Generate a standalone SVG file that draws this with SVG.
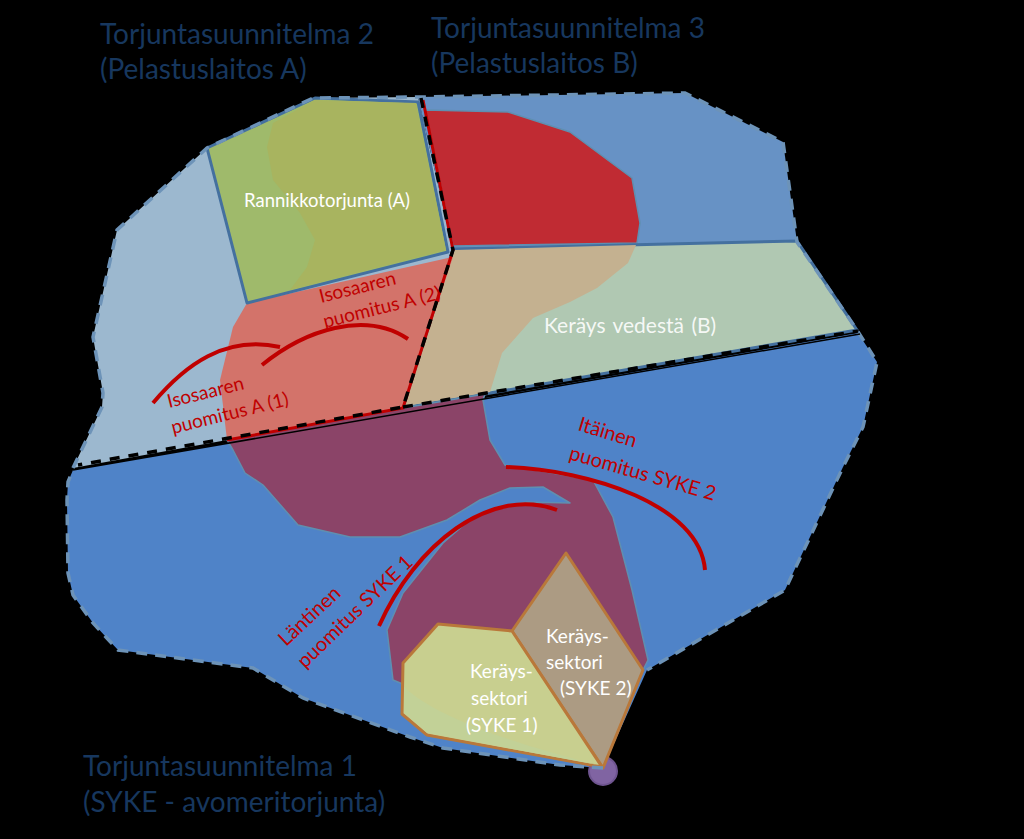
<svg xmlns="http://www.w3.org/2000/svg" width="1024" height="839" viewBox="0 0 1024 839">
<style>
text{font-family:"Lato","Open Sans","Liberation Sans",sans-serif}
.title{font-size:28px;fill:#17375e}
.w{fill:#fff}
.r{font-size:19px;fill:#c00000}
.r2{font-size:20px;fill:#c00000}
.boom{fill:none;stroke:#c00000;stroke-width:4}
.edge{fill:none;stroke:#6d93b8;stroke-width:3.5;stroke-dasharray:11 8}
.dash{fill:none;stroke:#000;stroke-width:3.5;stroke-dasharray:10 9}
.sec{stroke:#b9783a;stroke-width:3;stroke-linejoin:round}
.zone{stroke:#44709f;stroke-width:3;stroke-linejoin:round}
.soft{stroke:#5f8fb0;stroke-width:1.5;stroke-linejoin:round}
</style>
<rect width="1024" height="839" fill="#000"/>
<g id="plan1"><path d="M73 470L858 333L877 362L863 427L843 467L785 590L647 670L603 768L560 765L443 748L410 737L303 698L253 668L118 650L93 623L73 595L68 573L67 500L68 482Z" fill="#4f83c8"/></g>
<g id="plan2"><path d="M73 468L102 407L103 393L93 337L117 230L207 148L313 98L418 97L453 250L403 408Z" fill="#9cb8cf"/></g>
<g id="plan3"><path d="M418 97L685 93L783 142L797 242L453 250Z" fill="#6792c5"/></g>
<g id="spill-red"><path class="soft" d="M425 110L508 112L570 132L632 178L640 223L637 243L453 246Z" fill="#c02b33"/></g>
<g id="zone-b"><path class="zone" d="M453 249L797 241L857 330L403 408Z" fill="#b0c8b2"/><path d="M455 250L636 245L628 263L597 288L570 302L533 318L502 353L490 392L405 406Z" fill="#c4b190"/><text class="w" x="544" y="333" fill-opacity=".9" style="font-size:21px;word-spacing:2px">Keräys vedestä (B)</text></g>
<g id="spill-salmon"><path d="M247 303L448 258L453 257L403 408L227 440L220 380L233 327Z" fill="#d3736a"/></g>
<g id="spill-purple"><path class="soft" d="M227 440L403 408L485 394L483 400L490 440L505 465L593 480L613 517L632 590L648 660L643 670L602 767L393 680L387 630L403 593L443 543L473 517L497 507L527 502L570 503L543 487L510 488L480 500L447 520L400 537L350 537L298 525L263 485L245 473L233 450Z" fill="#8b4468"/></g>
<g id="zone-a"><path class="zone" d="M207 148L315 98L418 102L448 252L247 303Z" fill="#9fba6b"/><path d="M315 100L416 103L446 250L290 290L307 267L315 240L300 213L273 180L267 147L273 123Z" fill="#a8b45f"/><text class="w" x="244" y="207" style="font-size:18.5px">Rannikkotorjunta (A)</text></g>
<g id="circle"><circle cx="603" cy="771" r="14" fill="#8064a2" stroke="#6f5590" stroke-width="2"/></g>
<g id="sector2"><path class="sec" d="M566 553L643 670L603 768L512 631Z" fill="#ac9b83"/><text class="w" style="font-size:19px"><tspan x="546" y="643">Keräys-</tspan><tspan x="546" y="669">sektori</tspan><tspan x="560" y="695">(SYKE 2)</tspan></text></g>
<g id="sector1"><path class="sec" d="M512 631L438 624L403 663L402 714L427 735L602 767Z" fill="#c8cf8f"/><path d="M404 687C440 720 520 745 598 765L427 733L404 713Z" fill="#c2d197"/><text class="w" style="font-size:19px"><tspan x="470" y="678">Keräys-</tspan><tspan x="471" y="705">sektori</tspan><tspan x="466" y="732">(SYKE 1)</tspan></text></g>
<g id="connectors">
<path class="edge" d="M73 468L102 407L103 393L93 337L117 230L207 148L313 98L418 97L685 93L783 142L797 242L857 330L877 362L863 427L843 467L785 590L647 670M603 768L560 765L443 748L410 737L303 698L253 668L118 650L93 623L73 595L68 573L67 500L68 482L73 470"/>
<path fill="none" stroke="#c00000" stroke-width="3" d="M423 100L453 250L403 408L227 440"/>
<path class="dash" d="M421 98L453 250L403 407L78 465"/>
<path class="dash" d="M403 407L858 331"/>
<path fill="none" stroke="#000" stroke-width="1.5" d="M73 470L860 334"/>
</g>
<g id="booms">
<path class="boom" d="M153 403C185 365 225 335 280 347"/>
<path class="boom" d="M262 365C305 330 365 310 408 339"/>
<path class="boom" d="M506 467C590 470 700 505 705 570"/>
<path class="boom" d="M379 626C415 545 490 485 557 510"/>
</g>
<g id="labels">
<text class="title" x="100" y="44">Torjuntasuunnitelma 2</text>
<text class="title" x="100" y="79">(Pelastuslaitos A)</text>
<text class="title" x="431" y="38">Torjuntasuunnitelma 3</text>
<text class="title" x="431" y="73">(Pelastuslaitos B)</text>
<text class="title" x="83" y="776">Torjuntasuunnitelma 1</text>
<text class="title" x="83" y="812">(SYKE - avomeritorjunta)</text>
<text class="r" transform="translate(169 408) rotate(-14)">Isosaaren</text>
<text class="r" transform="translate(173 434) rotate(-14)">puomitus A (1)</text>
<text class="r" transform="translate(321 303) rotate(-14)">Isosaaren</text>
<text class="r" transform="translate(325 328) rotate(-14)">puomitus A (2)</text>
<text class="r2" transform="translate(577 430) rotate(17)">Itäinen</text>
<text class="r2" transform="translate(568 459) rotate(16)">puomitus SYKE 2</text>
<text class="r2" transform="translate(286 647) rotate(-43)">Läntinen</text>
<text class="r2" transform="translate(305 669) rotate(-44)">puomitus SYKE 1</text>
</g>
</svg>
